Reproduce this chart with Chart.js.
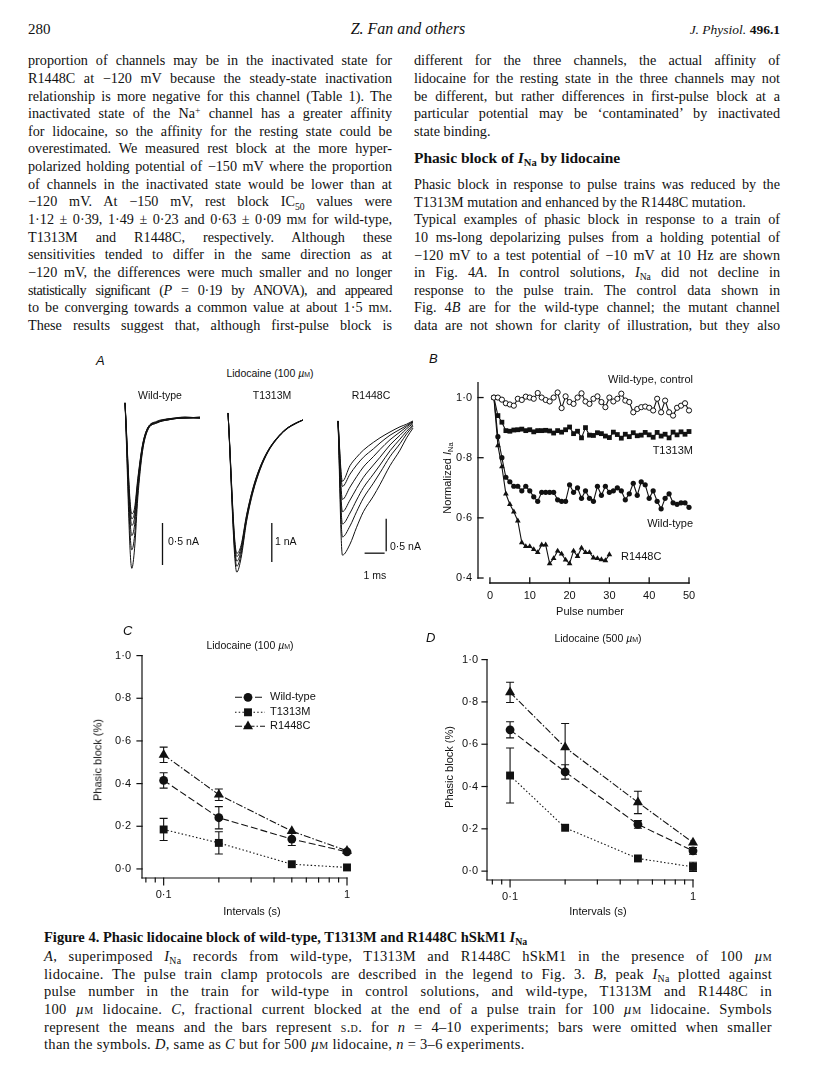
<!DOCTYPE html>
<html><head><meta charset="utf-8">
<script src="https://cdn.jsdelivr.net/npm/chart.js@4.4.1/dist/chart.umd.min.js"></script>
<style>
body{margin:0;background:#fff}
#page{position:relative;width:816px;height:1088px;overflow:hidden;background:#fff;color:#111}
.t{position:absolute;white-space:nowrap}
.serif{font-family:"Liberation Serif","Times New Roman",serif}
.col{position:absolute;font-family:"Liberation Serif","Times New Roman",serif;font-size:14.2px;line-height:17.67px}
.col div{height:17.67px;text-align:justify;text-align-last:justify;word-spacing:-2px}
.col div.l{text-align:left;text-align-last:left;word-spacing:0}
.col div.tight{letter-spacing:-0.5px;word-spacing:-3px}
.cap{position:absolute;font-family:"Liberation Serif","Times New Roman",serif;font-size:14.5px;line-height:17.6px;letter-spacing:0.3px}
.cap div{height:17.6px;text-align:justify;text-align-last:justify;word-spacing:-1.5px}
.cap div.l{text-align:left;text-align-last:left;word-spacing:0}
sub{font-size:68%;vertical-align:baseline;position:relative;top:0.32em}
sup{font-size:68%;vertical-align:baseline;position:relative;top:-0.45em}
.sc{font-variant:small-caps}
canvas{position:absolute}
</style></head>
<body><div id="page">

<div class="t serif" style="left:28px;top:21px;font-size:15px">280</div>
<div class="t serif" style="left:408px;top:20px;font-size:16px;font-style:italic;transform:translateX(-50%)">Z. Fan and others</div>
<div class="t serif" style="right:36px;top:22px;font-size:13.5px"><i>J. Physiol.</i> <b>496.1</b></div>

<div class="col" style="left:28px;top:52.2px;width:364px">
<div>proportion of channels may be in the inactivated state for</div>
<div>R1448C at −120 mV because the steady-state inactivation</div>
<div>relationship is more negative for this channel (Table 1). The</div>
<div>inactivated state of the Na<sup>+</sup> channel has a greater affinity</div>
<div>for lidocaine, so the affinity for the resting state could be</div>
<div>overestimated. We measured rest block at the more hyper-</div>
<div>polarized holding potential of −150 mV where the proportion</div>
<div>of channels in the inactivated state would be lower than at</div>
<div>−120 mV. At −150 mV, rest block IC<sub>50</sub> values were</div>
<div>1·12 ± 0·39, 1·49 ± 0·23 and 0·63 ± 0·09 m<span class="sc">m</span> for wild-type,</div>
<div>T1313M and R1448C, respectively. Although these</div>
<div>sensitivities tended to differ in the same direction as at</div>
<div>−120 mV, the differences were much smaller and no longer</div>
<div class="tight">statistically significant (<i>P</i> = 0·19 by ANOVA), and appeared</div>
<div>to be converging towards a common value at about 1·5 m<span class="sc">m</span>.</div>
<div>These results suggest that, although first-pulse block is</div>
</div>

<div class="col" style="left:414px;top:52.2px;width:366px">
<div>different for the three channels, the actual affinity of</div>
<div>lidocaine for the resting state in the three channels may not</div>
<div>be different, but rather differences in first-pulse block at a</div>
<div>particular potential may be ‘contaminated’ by inactivated</div>
<div class="l">state binding.</div>
</div>
<div class="t serif" style="left:414px;top:148.5px;font-size:15.5px;font-weight:bold">Phasic block of <i>I</i><sub>Na</sub> by lidocaine</div>
<div class="col" style="left:414px;top:175.9px;width:366px">
<div>Phasic block in response to pulse trains was reduced by the</div>
<div class="l">T1313M mutation and enhanced by the R1448C mutation.</div>
<div>Typical examples of phasic block in response to a train of</div>
<div>10 ms-long depolarizing pulses from a holding potential of</div>
<div>−120 mV to a test potential of −10 mV at 10 Hz are shown</div>
<div>in Fig. 4<i>A</i>. In control solutions, <i>I</i><sub>Na</sub> did not decline in</div>
<div>response to the pulse train. The control data shown in</div>
<div>Fig. 4<i>B</i> are for the wild-type channel; the mutant channel</div>
<div>data are not shown for clarity of illustration, but they also</div>
</div>

<div class="t serif" style="left:44px;top:929px;font-size:14.5px;font-weight:bold">Figure 4. Phasic lidocaine block of wild-type, T1313M and R1448C hSkM1 <i>I</i><sub>Na</sub></div>
<div class="cap" style="left:44px;top:948.2px;width:728px">
<div><i>A</i>, superimposed <i>I</i><sub>Na</sub> records from wild-type, T1313M and R1448C hSkM1 in the presence of 100 <i>µ</i><span class="sc">m</span></div>
<div>lidocaine. The pulse train clamp protocols are described in the legend to Fig. 3. <i>B</i>, peak <i>I</i><sub>Na</sub> plotted against</div>
<div>pulse number in the train for wild-type in control solutions, and wild-type, T1313M and R1448C in</div>
<div>100 <i>µ</i><span class="sc">m</span> lidocaine. <i>C</i>, fractional current blocked at the end of a pulse train for 100 <i>µ</i><span class="sc">m</span> lidocaine. Symbols</div>
<div>represent the means and the bars represent <span class="sc">s.d.</span> for <i>n</i> = 4–10 experiments; bars were omitted when smaller</div>
<div class="l">than the symbols. <i>D</i>, same as <i>C</i> but for 500 <i>µ</i><span class="sc">m</span> lidocaine, <i>n</i> = 3–6 experiments.</div>
</div>

<canvas id="cWT"></canvas><canvas id="cT"></canvas><canvas id="cR"></canvas>
<canvas id="cB"></canvas><canvas id="cC"></canvas><canvas id="cD"></canvas>
</div>

<script>
// ---------------- DATA ----------------
// Panel B: normalized INa vs pulse number
const pulses = [1,2,3,4,5,6,7,8,9,10,11,12,13,14,15,16,17,18,19,20,21,22,23,24,25,26,27,28,29,30,31,32,33,34,35,36,37,38,39,40,41,42,43,44,45,46,47,48,49,50];
const controlB = [1.00,1.00,0.993,0.981,0.977,0.973,0.996,0.992,1.003,1.00,
                  0.996,1.015,1.00,0.992,0.987,1.00,1.017,0.965,1.004,0.985,
                  0.979,1.00,1.014,0.987,0.979,0.996,1.004,0.985,0.968,1.00,
                  0.987,0.996,1.013,0.99,0.985,0.951,0.962,0.968,0.97,0.966,
                  0.957,0.996,0.951,0.99,0.951,0.94,0.966,0.973,0.981,0.957];
const t1313mB = [1.00,0.94,0.918,0.89,0.888,0.892,0.893,0.895,0.89,0.893,
                 0.886,0.89,0.89,0.891,0.889,0.882,0.89,0.885,0.893,0.902,
                 0.88,0.888,0.866,0.90,0.875,0.874,0.883,0.88,0.872,0.867,
                 0.885,0.877,0.865,0.878,0.87,0.883,0.873,0.875,0.884,0.876,
                 0.868,0.884,0.872,0.878,0.866,0.885,0.876,0.886,0.878,0.887];
const wtB = [1.00,0.87,0.80,0.735,0.72,0.705,0.705,0.69,0.705,0.69,
             0.67,0.655,0.685,0.685,0.685,0.685,0.66,0.655,0.655,0.71,
             0.685,0.70,0.665,0.69,0.665,0.655,0.705,0.675,0.705,0.685,
             0.69,0.70,0.69,0.66,0.68,0.715,0.675,0.72,0.71,0.665,
             0.69,0.655,0.63,0.665,0.68,0.65,0.645,0.65,0.65,0.635];
const r1448cB = [1.00,0.84,0.77,0.68,0.645,0.62,0.59,0.518,0.505,0.505,
                 0.495,0.485,0.51,0.51,0.448,0.465,0.49,0.48,0.46,0.448,
                 0.49,0.472,0.50,0.485,0.485,0.467,0.465,0.461,0.458,0.478];
const yTicksB = [0.4,0.6,0.8,1.0];
const xTicksB = [0,10,20,30,40,50];

// Panels C and D: phasic block vs interval
const intervals = [0.1,0.2,0.5,1];
const wtC = [0.415,0.24,0.14,0.08],  wtCErr = [0.036,0.052,0.03,null];
const tC  = [0.185,0.122,0.022,0.007], tCErr = [0.052,0.052,null,null];
const rC  = [0.535,0.348,0.177,0.085], rCErr = [0.036,0.027,null,null];
const wtD = [0.668,0.469,0.221,0.096], wtDErr = [0.038,0.034,0.018,0.016];
const tD  = [0.452,0.205,0.06,0.02],  tDErr = [0.13,null,null,0.022];
const rD  = [0.845,0.585,0.325,0.135], rDErr = [0.048,0.113,0.053,null];
const yTicksCD = [0,0.2,0.4,0.6,0.8,1.0];
const xTicksCD = [0.1,1];
const xMinorCD = [0.08,0.09,0.2,0.3,0.4,0.5,0.6,0.7,0.8,0.9];

// Panel A: superimposed current traces (time in ms, current in nA)
const timeWT = [0,0.34,0.48,0.64,0.875,1.13,1.58,2.2,3.0,3.75];
const wtTraces = [
  [0.18,-1.79,-1.55,-0.95,-0.40,-0.15,-0.06,-0.02,0.00,0.00],
  [0.18,-1.57,-1.40,-0.88,-0.38,-0.14,-0.06,-0.02,0.00,0.00],
  [0.18,-1.40,-1.27,-0.82,-0.36,-0.13,-0.05,-0.02,0.01,0.00],
  [0.18,-1.28,-1.18,-0.78,-0.34,-0.13,-0.05,-0.01,0.00,0.01],
  [0.18,-1.20,-1.12,-0.75,-0.33,-0.12,-0.05,-0.01,0.01,0.00],
  [0.18,-1.14,-1.07,-0.72,-0.32,-0.12,-0.04,-0.01,0.00,0.01]];
const timeT = [0,0.44,0.65,0.93,1.25,1.6,2.0,2.43,2.9,3.43,3.75];
const tTraces = [
  [0.18,-3.90,-3.55,-2.60,-1.85,-1.28,-0.82,-0.50,-0.25,-0.08,0.0],
  [0.18,-3.75,-3.45,-2.55,-1.82,-1.26,-0.81,-0.49,-0.24,-0.08,0.0],
  [0.18,-3.62,-3.36,-2.50,-1.79,-1.24,-0.80,-0.48,-0.24,-0.07,0.0],
  [0.18,-3.50,-3.28,-2.46,-1.76,-1.22,-0.79,-0.48,-0.23,-0.07,0.0],
  [0.18,-3.42,-3.22,-2.43,-1.74,-1.21,-0.78,-0.47,-0.23,-0.07,0.0]];
const timeR = [0,0.22,0.6,0.93,1.27,1.77,2.1,2.6,3.1,3.43,3.75];
const rTraces = [
  [0,-2.07,-1.90,-1.64,-1.40,-1.16,-0.98,-0.69,-0.45,-0.26,-0.11],
  [0,-1.79,-1.62,-1.40,-1.19,-0.96,-0.80,-0.55,-0.35,-0.20,-0.08],
  [0,-1.59,-1.42,-1.22,-1.03,-0.82,-0.68,-0.46,-0.28,-0.16,-0.06],
  [0,-1.40,-1.22,-1.04,-0.87,-0.68,-0.56,-0.37,-0.22,-0.12,-0.04],
  [0,-1.21,-1.02,-0.86,-0.71,-0.55,-0.44,-0.29,-0.17,-0.09,-0.02],
  [0,-1.01,-0.82,-0.68,-0.56,-0.43,-0.34,-0.22,-0.13,-0.07,-0.01],
  [0,-0.93,-0.69,-0.56,-0.45,-0.33,-0.26,-0.17,-0.09,-0.05,0.00]];
// calibration bars: [time ms, current from, current to]
const calWT = [1.875,-1.25,-1.75];     // 0.5 nA
const calT  = [2.19,-2.64,-3.64];      // 1 nA
const calR  = [2.41,-1.51,-2.01];      // 0.5 nA
const calMs = [1.33,2.33,-2.04];       // 1 ms

// ---------------- HELPERS ----------------
const SANS = '"Liberation Sans", Arial, Helvetica, sans-serif';
const INK = '#111';
Chart.defaults.font.family = SANS;
Chart.defaults.font.size = 11;
Chart.defaults.color = INK;
const page = document.getElementById('page');

function lab(html, x, cy, o = {}) {
  const d = document.createElement('div');
  d.className = 't';
  d.innerHTML = html;
  const fs = o.fs || 11;
  d.style.fontFamily = SANS;
  d.style.fontSize = fs + 'px';
  d.style.lineHeight = (fs * 1.2) + 'px';
  if (o.italic) d.style.fontStyle = 'italic';
  if (o.bold) d.style.fontWeight = 'bold';
  if (o.rot) {
    d.style.left = x + 'px'; d.style.top = cy + 'px';
    d.style.transform = 'translate(-50%,-50%) rotate(-90deg)';
  } else {
    d.style.top = (cy - fs * 0.6) + 'px';
    if (o.align === 'center') { d.style.left = x + 'px'; d.style.transform = 'translateX(-50%)'; }
    else if (o.align === 'right') { d.style.right = (816 - x) + 'px'; }
    else d.style.left = x + 'px';
  }
  page.appendChild(d);
}

const fmt1 = v => v.toFixed(1).replace('.', '·');
const pts = (xs, ys) => ys.map((y, i) => ({x: xs[i], y}));

function axesPlugin(cfg) {
  return {
    id: 'paperAxes',
    afterDraw(chart) {
      const ctx = chart.ctx, a = chart.chartArea, xs = chart.scales.x, ys = chart.scales.y;
      ctx.save();
      ctx.strokeStyle = INK; ctx.lineWidth = cfg.lw || 1.2; ctx.lineCap = 'square';
      const seg = (x1, y1, x2, y2) => { ctx.beginPath(); ctx.moveTo(x1, y1); ctx.lineTo(x2, y2); ctx.stroke(); };
      const yx = a.left;
      seg(yx, ys.getPixelForValue(cfg.ySpine[0]), yx, ys.getPixelForValue(cfg.ySpine[1]));
      cfg.yTicks.forEach(v => { const py = ys.getPixelForValue(v); seg(yx, py, yx + cfg.yLen, py); });
      const xy = a.bottom;
      seg(xs.getPixelForValue(cfg.xSpine[0]), xy, xs.getPixelForValue(cfg.xSpine[1]), xy);
      cfg.xTicks.forEach(v => { const px = xs.getPixelForValue(v); seg(px, xy, px, xy + cfg.xLen); });
      (cfg.xMinor || []).forEach(v => { const px = xs.getPixelForValue(v); seg(px, xy, px, xy + cfg.xMinorLen); });
      ctx.restore();
    }
  };
}

const errPlugin = {
  id: 'errBars',
  beforeDatasetsDraw(chart) {
    const ctx = chart.ctx, ys = chart.scales.y;
    ctx.save(); ctx.strokeStyle = INK; ctx.lineWidth = 1.1; ctx.setLineDash([]);
    chart.data.datasets.forEach((ds, i) => {
      if (!ds.errs) return;
      const meta = chart.getDatasetMeta(i);
      meta.data.forEach((pt, j) => {
        const e = ds.errs[j]; if (e == null) return;
        const v = ds.data[j].y;
        const y1 = ys.getPixelForValue(v + e), y2 = ys.getPixelForValue(v - e);
        ctx.beginPath();
        ctx.moveTo(pt.x, y1); ctx.lineTo(pt.x, y2);
        ctx.moveTo(pt.x - 4, y1); ctx.lineTo(pt.x + 4, y1);
        ctx.moveTo(pt.x - 4, y2); ctx.lineTo(pt.x + 4, y2);
        ctx.stroke();
      });
    });
    ctx.restore();
  }
};

function legendPlugin(cfg) {
  return {
    id: 'paperLegend',
    afterDatasetsDraw(chart) {
      const ctx = chart.ctx, a = chart.chartArea;
      chart.data.datasets.forEach((ds, i) => {
        const y = a.top + cfg.ys[i];
        ctx.save();
        ctx.strokeStyle = INK; ctx.lineWidth = 1.1; ctx.setLineDash(ds.borderDash || []);
        ctx.beginPath(); ctx.moveTo(a.left + cfg.x0, y); ctx.lineTo(a.left + cfg.x1, y); ctx.stroke();
        ctx.setLineDash([]); ctx.fillStyle = INK;
        Chart.helpers.drawPoint(ctx, {pointStyle: ds.pointStyle, radius: ds.pointRadius, borderWidth: 0, rotation: 0}, a.left + cfg.xm, y);
        ctx.font = '11px ' + SANS; ctx.textBaseline = 'middle'; ctx.textAlign = 'left';
        ctx.fillText(ds.label, a.left + cfg.xt, y);
        ctx.restore();
      });
    }
  };
}

function place(id, area, m) {
  const cv = document.getElementById(id);
  const L = area.l - m.l, T = area.t - m.t;
  const W = area.r - area.l + m.l + m.r, H = area.b - area.t + m.t + m.b;
  cv.style.left = L + 'px'; cv.style.top = T + 'px';
  cv.width = W; cv.height = H; cv.style.width = W + 'px'; cv.style.height = H + 'px';
  return cv;
}

const baseOpts = {responsive: false, maintainAspectRatio: false, animation: false, devicePixelRatio: 1,
  plugins: {legend: {display: false}, tooltip: {enabled: false}}, events: []};

// ---------------- PANEL A ----------------
function traceChart(id, area, times, traces, xr, yr, cals) {
  const m = {l: 6, r: 6, t: 6, b: 6};
  const cv = place(id, area, m);
  const ds = traces.map(tr => ({data: pts(times, tr), borderColor: INK, borderWidth: 1, pointRadius: 0,
    showLine: true, cubicInterpolationMode: 'monotone', clip: false}));
  cals.forEach(c => ds.push({data: c, borderColor: INK, borderWidth: 1.3, pointRadius: 0, showLine: true, tension: 0, clip: false}));
  new Chart(cv, {type: 'scatter', data: {datasets: ds}, options: Object.assign({}, baseOpts, {
    layout: {padding: {left: m.l, right: m.r, top: m.t, bottom: m.b}},
    scales: {x: {type: 'linear', display: false, min: xr[0], max: xr[1]},
             y: {type: 'linear', display: false, min: yr[0], max: yr[1]}}})});
}
traceChart('cWT', {l: 125, r: 200, t: 397, b: 578}, timeWT, wtTraces, [0, 3.75], [-1.905, 0.25],
  [[{x: calWT[0], y: calWT[1]}, {x: calWT[0], y: calWT[2]}]]);
traceChart('cT', {l: 228, r: 303, t: 404, b: 584}, timeT, tTraces, [0, 3.75], [-4.205, 0.41],
  [[{x: calT[0], y: calT[1]}, {x: calT[0], y: calT[2]}]]);
traceChart('cR', {l: 338, r: 413, t: 408, b: 583}, timeR, rTraces, [0, 3.75], [-2.5, 0.2],
  [[{x: calR[0], y: calR[1]}, {x: calR[0], y: calR[2]}],
   [{x: calMs[0], y: calMs[2]}, {x: calMs[1], y: calMs[2]}]]);

lab('A', 96, 361, {fs: 13, italic: true});
lab('Lidocaine (100 <i>µ</i><span class="sc">m</span>)', 270, 373, {fs: 10.5, align: 'center'});
lab('Wild-type', 160, 395, {fs: 10.5, align: 'center'});
lab('T1313M', 272, 395, {fs: 10.5, align: 'center'});
lab('R1448C', 371, 395, {fs: 10.5, align: 'center'});
lab('0·5 nA', 168, 541, {fs: 10.5});
lab('1 nA', 275, 541, {fs: 10.5});
lab('0·5 nA', 390, 546, {fs: 10.5});
lab('1 ms', 375, 575, {fs: 10.5, align: 'center'});

// ---------------- PANEL B ----------------
(function () {
  const area = {l: 478, r: 689, t: 382, b: 583}, m = {l: 40, r: 14, t: 12, b: 24};
  const cv = place('cB', area, m);
  const common = {borderColor: INK, borderWidth: 1.1, showLine: true, clip: false, tension: 0,
    pointBackgroundColor: INK, pointBorderColor: INK, pointBorderWidth: 0};
  const ds = [
    Object.assign({}, common, {data: pts(pulses, controlB), pointStyle: 'circle', pointRadius: 2.6,
      pointBackgroundColor: '#fff', pointBorderWidth: 1}),
    Object.assign({}, common, {data: pts(pulses, t1313mB), pointStyle: 'rect', pointRadius: 3.4}),
    Object.assign({}, common, {data: pts(pulses, wtB), pointStyle: 'circle', pointRadius: 2.6}),
    Object.assign({}, common, {data: pts(pulses, r1448cB), pointStyle: 'triangle', pointRadius: 3.3})
  ];
  new Chart(cv, {type: 'scatter', data: {datasets: ds}, options: Object.assign({}, baseOpts, {
    layout: {padding: {left: 0, right: m.r, top: m.t, bottom: 0}},
    scales: {
      x: {type: 'linear', min: -3.0, max: 50,
        afterBuildTicks: s => { s.ticks = xTicksB.map(v => ({value: v})); },
        afterFit: s => { s.height = m.b; },
        ticks: {padding: 6, maxRotation: 0, autoSkip: false, font: {size: 11}},
        grid: {display: false, drawTicks: false}, border: {display: false}},
      y: {type: 'linear', min: 0.3834, max: 1.0497,
        afterBuildTicks: s => { s.ticks = yTicksB.map(v => ({value: v})); },
        afterFit: s => { s.width = m.l; },
        ticks: {padding: 6, callback: v => fmt1(v), font: {size: 11}},
        grid: {display: false, drawTicks: false}, border: {display: false}}
    }}),
    plugins: [axesPlugin({ySpine: [0.4, 1.0497], yTicks: yTicksB, yLen: 5, xSpine: [0, 50], xTicks: xTicksB, xLen: -5, lw: 1.3})]
  });
})();
lab('B', 429, 359, {fs: 13, italic: true});
lab('Wild-type, control', 693, 380, {align: 'right'});
lab('T1313M', 693, 451, {align: 'right'});
lab('Wild-type', 693, 524, {align: 'right'});
lab('R1448C', 621, 557);
lab('Normalized <i>I</i><sub>Na</sub>', 448, 478, {rot: true});
lab('Pulse number', 590, 612, {align: 'center'});

// ---------------- PANELS C & D ----------------
function cdChart(id, area, xmin, ymin, sets, padY, withLegend) {
  const m = {l: 40, r: 14, t: 12, b: 30};
  const cv = place(id, area, m);
  const styles = [
    {label: 'Wild-type', borderDash: [7, 3], pointStyle: 'circle', pointRadius: 4.4},
    {label: 'T1313M', borderDash: [1.5, 2.2], pointStyle: 'rect', pointRadius: 5.6},
    {label: 'R1448C', borderDash: [7, 2, 1.5, 2], pointStyle: 'triangle', pointRadius: 5.8}
  ];
  const ds = sets.map((s, i) => Object.assign({data: pts(intervals, s[0]), errs: s[1], borderColor: INK,
    backgroundColor: INK, pointBackgroundColor: INK, borderWidth: 1.1, pointBorderWidth: 0,
    showLine: true, clip: false, tension: 0}, styles[i]));
  const plugins = [errPlugin, axesPlugin({ySpine: [ymin, 1.0], yTicks: yTicksCD, yLen: -5,
    xSpine: [xmin, 1], xTicks: xTicksCD, xLen: 7, xMinor: xMinorCD, xMinorLen: 4, lw: 1.2})];
  if (withLegend) plugins.push(legendPlugin({x0: 93, x1: 123, xm: 106, xt: 128, ys: [41.7, 56.7, 70.7]}));
  new Chart(cv, {type: 'scatter', data: {datasets: ds}, options: Object.assign({}, baseOpts, {
    layout: {padding: {left: 0, right: m.r, top: m.t, bottom: 0}},
    scales: {
      x: {type: 'logarithmic', min: xmin, max: 1,
        afterBuildTicks: s => { s.ticks = xTicksCD.map(v => ({value: v})); },
        afterFit: s => { s.height = m.b; },
        ticks: {padding: 10, maxRotation: 0, autoSkip: false, callback: v => (v === 1 ? '1' : fmt1(v)), font: {size: 11}},
        grid: {display: false, drawTicks: false}, border: {display: false}},
      y: {type: 'linear', min: ymin, max: 1.0,
        afterBuildTicks: s => { s.ticks = yTicksCD.map(v => ({value: v})); },
        afterFit: s => { s.width = m.l; },
        ticks: {padding: padY, callback: v => fmt1(v), font: {size: 11}},
        grid: {display: false, drawTicks: false}, border: {display: false}}
    }}), plugins});
}
cdChart('cC', {l: 142, r: 347, t: 650, b: 878}, 0.0762, -0.0425,
  [[wtC, wtCErr], [tC, tCErr], [rC, rCErr]], 11, true);
cdChart('cD', {l: 487, r: 693, t: 656, b: 880}, 0.0748, -0.0419,
  [[wtD, wtDErr], [tD, tDErr], [rD, rDErr]], 9, false);

lab('C', 123, 631, {fs: 13, italic: true});
lab('Lidocaine (100 <i>µ</i><span class="sc">m</span>)', 250, 645, {fs: 10.5, align: 'center'});
lab('Phasic block (%)', 98, 760, {rot: true});
lab('Intervals (s)', 252, 912, {align: 'center'});
lab('D', 426, 638, {fs: 13, italic: true});
lab('Lidocaine (500 <i>µ</i><span class="sc">m</span>)', 598, 638, {fs: 10.5, align: 'center'});
lab('Phasic block (%)', 450, 767, {rot: true});
lab('Intervals (s)', 598, 912, {align: 'center'});
</script>
</body></html>
